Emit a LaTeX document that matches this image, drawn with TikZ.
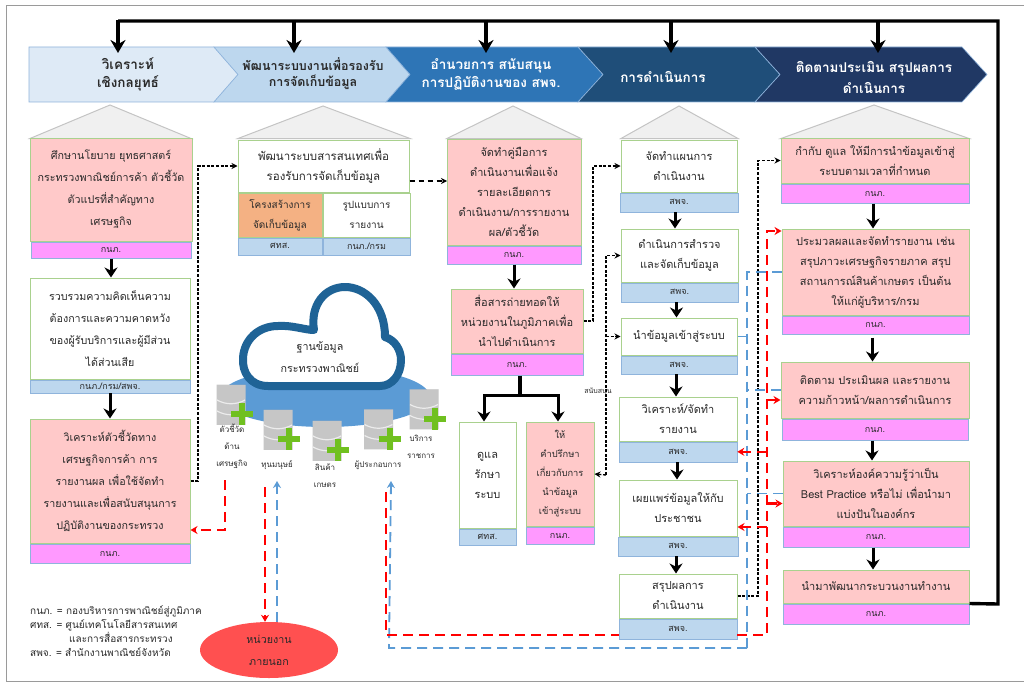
\documentclass[tikz,border=0pt]{standalone}
\usepackage{fontspec}
\setmainfont[Script=Thai]{Loma}
\usepackage{tikz}
\usetikzlibrary{shapes.geometric}
\usetikzlibrary{arrows.meta, positioning}

\definecolor{framegray}{HTML}{9A9A9A}
\definecolor{roofgray}{HTML}{C4C4C4}
\definecolor{roofill}{HTML}{F0F0F0}
\definecolor{pinkfill}{HTML}{FFC9C9}
\definecolor{greenline}{HTML}{A9D18E}
\definecolor{magfill}{HTML}{FF99FF}
\definecolor{footblue}{HTML}{BDD7EE}
\definecolor{footline}{HTML}{8FB4DC}
\definecolor{orangefill}{HTML}{F4B183}
\definecolor{chevone}{HTML}{DEEAF6}
\definecolor{chevtwo}{HTML}{BDD7EE}
\definecolor{chevthree}{HTML}{2E75B6}
\definecolor{chevfour}{HTML}{1F4E79}
\definecolor{chevfive}{HTML}{203864}
\definecolor{cloudblue}{HTML}{1F6396}
\definecolor{discblue}{HTML}{5B9BD5}
\definecolor{dashblue}{HTML}{5B9BD5}
\definecolor{redoval}{HTML}{FF5050}
\definecolor{plusgreen}{HTML}{70C020}
\definecolor{inkdark}{HTML}{2A2A2A}

\begin{document}
\begin{tikzpicture}[x = 1pt, y = -1pt, inner sep = 0pt, text = inkdark,
	textfont/.style = {font = \fontsize{11}{20}\selectfont, align = center},
	widefont/.style = {font = \fontsize{10.7}{22}\selectfont, align = center},
	whitebox/.style = {draw = greenline, fill = white, line width = 1pt, textfont},
	pinkbox/.style = {draw = greenline, fill = pinkfill, line width = 1pt, textfont},
	orangebox/.style = {draw = greenline, fill = orangefill, line width = 1pt, textfont},
	boxsize/.style 2 args = {minimum width = #1pt, minimum height = #2pt},
	footfont/.style = {font = \fontsize{9}{10}\selectfont},
	magfoot/.style = {draw = footline, fill = magfill, line width = 1pt, footfont},
	bluefoot/.style = {draw = footline, fill = footblue, line width = .6pt, footfont},
	roof/.style = {draw = roofgray, fill = roofill, line width = 1pt},
	chevtext/.style = {font = \fontsize{13.5}{18}\selectfont\bfseries, align = center},
	dblabel/.style = {font = \fontsize{8}{17}\selectfont, align = center},
	dbcyl/.style = {cylinder, shape border rotate = 90, aspect = 2.2, minimum width = 29pt, minimum height = 40pt, cylinder uses custom fill, cylinder body fill = gray!45, cylinder end fill = gray!70},
	heavy/.style = {line width = 3.4pt},
	heavyarrow/.style = {line width = 3.4pt, -{Stealth[length = 13pt, width = 15pt]}},
	flow/.style = {line width = 3pt, -{Stealth[length = 10pt, width = 13pt]}},
	dotline/.style = {line width = 1.3pt, dash pattern = on 3pt off 1.6pt, black},
	dotarrow/.style = {dotline, -{Stealth[length = 6pt, width = 6pt]}},
	redline/.style = {line width = 2.4pt, dash pattern = on 10pt off 6pt, red},
	redarrow/.style = {redline, -{Stealth[length = 7pt, width = 8pt]}},
	blueline/.style = {line width = 1.8pt, dash pattern = on 10pt off 6pt, dashblue},
	bluearrow/.style = {blueline, -{Stealth[length = 7pt, width = 8pt]}}]

\useasboundingbox (0,0) rectangle (1024,682);
\fill[white] (0,0) rectangle (1024,682);
\draw[framegray, line width = 1pt] (1024,6) -- (6,6) -- (6,681) -- (1024,681);

% header
\foreach \xa/\xn/\xb/\xc/\col in {29/29/214/238/chevone, 214/238/386/410/chevtwo, 386/410/578/603/chevthree, 578/603/755/780/chevfour, 755/780/962/987/chevfive}
	\filldraw[fill = \col, draw = footline, line width = .6pt] (\xa,47) -- (\xb,47) -- (\xc,74.5) -- (\xb,102) -- (\xa,102) -- (\xn,74.5) -- cycle;

\node[chevtext]				(chev1) at (128,74)	{วิเคราะห์\\เชิงกลยุทธ์};
\node[chevtext, font = \fontsize{12.5}{16}\selectfont\bfseries]	(chev2) at (313,74)	{พัฒนาระบบงานเพื่อรองรับ\\การจัดเก็บข้อมูล};
\node[chevtext, text = white]		(chev3) at (491,74)	{อำนวยการ สนับสนุน\\การปฏิบัติงานของ สพจ.};
\node[chevtext, text = white]		(chev4) at (663,77)	{การดำเนินการ};
\node[chevtext, text = white]		(chev5) at (874,77)	{ติดตามประเมิน สรุปผลการ\\[3pt]ดำเนินการ};

% roofs
\foreach \xa/\xm/\xb/\ya in {30/110/191/105, 238/323/410/106, 447/513/581/106, 621/679/738/106, 781/874/969/105}
	\draw[roof] (\xa,138.5) -- (\xm,\ya) -- (\xb,138.5) -- cycle;

% first column
\node[pinkbox, boxsize = {162}{103}, widefont]	(study) at (111,189.5)	{ศึกษานโยบาย ยุทธศาสตร์\\กระทรวงพาณิชย์การค้า ตัวชี้วัด\\ตัวแปรที่สำคัญทาง\\เศรษฐกิจ};
\node[magfoot, boxsize = {160}{16}]		(studyf) [below = 0pt of study]		{กนภ.};
\node[whitebox, boxsize = {160}{101}, widefont]	(voice) at (110,328.5)	{รวบรวมความคิดเห็นความ\\ต้องการและความคาดหวัง\\ของผู้รับบริการและผู้มีส่วน\\ได้ส่วนเสีย};
\node[bluefoot, boxsize = {160}{13}]		(voicef) [below = 0pt of voice]		{กนภ./กรม/สพจ.};
\node[pinkbox, boxsize = {160}{124}, widefont]	(analyse) at (110,481)	{วิเคราะห์ตัวชี้วัดทาง\\เศรษฐกิจการค้า การ\\รายงานผล เพื่อใช้จัดทำ\\รายงานและเพื่อสนับสนุนการ\\ปฏิบัติงานของกระทรวง};
\node[magfoot, boxsize = {160}{19}]		(analysef) [below = 0pt of analyse]	{กนภ.};

% second column
\node[whitebox, boxsize = {171}{52}, font = \fontsize{11.5}{20}\selectfont]	(devsys) at (323.5,166)	{พัฒนาระบบสารสนเทศเพื่อ\\รองรับการจัดเก็บข้อมูล};
\node[orangebox, boxsize = {84}{44}, font = \fontsize{10}{20}\selectfont]	(struct) at (280,215)	{โครงสร้างการ\\จัดเก็บข้อมูล};
\node[whitebox, boxsize = {87}{44}, font = \fontsize{10}{20}\selectfont]	(report) [right = 0pt of struct]	{รูปแบบการ\\รายงาน};
\node[bluefoot, boxsize = {84}{17}]		(structf) [below = 0pt of struct]	{ศทส.};
\node[bluefoot, boxsize = {87}{17}]		(reportf) [below = 0pt of report]	{กนภ./กรม};

% third column
\node[pinkbox, boxsize = {134}{106}]		(manual) at (514,192)	{จัดทำคู่มือการ\\ดำเนินงานเพื่อแจ้ง\\รายละเอียดการ\\ดำเนินงาน/การรายงาน\\ผล/ตัวชี้วัด};
\node[magfoot, boxsize = {134}{18}]		(manualf) [below = 0pt of manual]	{กนภ.};
\node[pinkbox, boxsize = {132}{64}]		(relay) at (517,321)	{สื่อสารถ่ายทอดให้\\หน่วยงานในภูมิภาคเพื่อ\\นำไปดำเนินการ};
\node[magfoot, boxsize = {132}{21}]		(relayf) [below = 0pt of relay]		{กนภ.};
\node[whitebox, boxsize = {57}{106}]		(care) at (487.5,475)	{ดูแล\\รักษา\\ระบบ};
\node[bluefoot, boxsize = {57}{16}]		(caref) [below = 0pt of care]		{ศทส.};
\node[pinkbox, boxsize = {68}{104}, font = \fontsize{9.3}{19}\selectfont]	(advise) at (560,474)	{ให้\\คำปรึกษา\\เกี่ยวกับการ\\นำข้อมูล\\เข้าสู่ระบบ};
\node[magfoot, boxsize = {68}{17}]		(advisef) [below = 0pt of advise]	{กนภ.};

% fourth column
\node[whitebox, boxsize = {116}{52}]		(plan) at (679,166)		{จัดทำแผนการ\\ดำเนินงาน};
\node[bluefoot, boxsize = {118}{19}]		(planf) [below = 0pt of plan]		{สพจ.};
\node[whitebox, boxsize = {117}{53}]		(survey) at (679.5,255.5)	{ดำเนินการสำรวจ\\และจัดเก็บข้อมูล};
\node[bluefoot, boxsize = {117}{19}]		(surveyf) [below = 0pt of survey]	{สพจ.};
\node[whitebox, boxsize = {116}{37}]		(entry) at (679,336.5)		{นำข้อมูลเข้าสู่ระบบ};
\node[bluefoot, boxsize = {116}{18}]		(entryf) [below = 0pt of entry]		{สพจ.};
\node[whitebox, boxsize = {118}{44}]		(reportb) at (678,419)		{วิเคราะห์/จัดทำ\\รายงาน};
\node[bluefoot, boxsize = {118}{20}]		(reportbf) [below = 0pt of reportb]	{สพจ.};
\node[whitebox, boxsize = {118}{56}]		(publish) at (678,508)		{เผยแพร่ข้อมูลให้กับ\\ประชาชน};
\node[bluefoot, boxsize = {120}{19}]		(publishf) [below = 0pt of publish]	{สพจ.};
\node[whitebox, boxsize = {118}{44}]		(sumup) at (678,596)		{สรุปผลการ\\ดำเนินงาน};
\node[bluefoot, boxsize = {118}{20}]		(sumupf) [below = 0pt of sumup]		{สพจ.};

% fifth column
\node[pinkbox, boxsize = {188}{45}]		(monitor) at (875,160.5)	{กำกับ ดูแล ให้มีการนำข้อมูลเข้าสู่\\ระบบตามเวลาที่กำหนด};
\node[magfoot, boxsize = {188}{19}]		(monitorf) [below = 0pt of monitor]	{กนภ.};
\node[pinkbox, boxsize = {187}{86}]		(compile) at (875.5,272)	{ประมวลผลและจัดทำรายงาน เช่น\\สรุปภาวะเศรษฐกิจรายภาค สรุป\\สถานการณ์สินค้าเกษตร เป็นต้น\\ให้แก่ผู้บริหาร/กรม};
\node[magfoot, boxsize = {187}{18}]		(compilef) [below = 0pt of compile]	{กนภ.};
\node[pinkbox, boxsize = {188}{56}]		(track) at (875,390)		{ติดตาม ประเมินผล และรายงาน\\ความก้าวหน้า/ผลการดำเนินการ};
\node[magfoot, boxsize = {186}{21}]		(trackf) [below = 0pt of track]		{กนภ.};
\node[pinkbox, boxsize = {186}{65}]		(assess) at (876,493.5)		{วิเคราะห์องค์ความรู้ว่าเป็น\\Best Practice หรือไม่ เพื่อนำมา\\แบ่งปันในองค์กร};
\node[magfoot, boxsize = {186}{20}]		(assessf) [below = 0pt of assess]	{กนภ.};
\node[pinkbox, boxsize = {186}{33}]		(improve) at (876,586.5)	{นำมาพัฒนากระบวนงานทำงาน};
\node[magfoot, boxsize = {186}{20}]		(improvef) [below = 0pt of improve]	{กนภ.};

% database
\node[ellipse, fill = discblue, minimum width = 210pt, minimum height = 60pt]	(disc) at (325,397) {};
\filldraw[draw = cloudblue, fill = white, line width = 8pt, line join = round]
	(268,386) .. controls (250,386) and (242,372) .. (243,358)
	.. controls (244,340) and (258,326) .. (278,326)
	.. controls (292,325) and (305,330) .. (314,330)
	.. controls (310,305) and (325,287) .. (345,287)
	.. controls (365,287) and (385,305) .. (385,337)
	.. controls (395,340) and (401,350) .. (401,360)
	.. controls (401,375) and (392,386) .. (380,386) -- cycle;
\node[widefont]	(cloudtext) at (320,357)	{ฐานข้อมูล\\กระทรวงพาณิชย์};

\foreach \n/\x/\y in {dbeco/231/405, dbhuman/278/430, dbfarm/327/441, dbfirm/378.5/429.5, dbservice/424/409.5} {
	\node[dbcyl] (\n) at (\x,\y) {};
	\draw[white!85!gray, line width = 1.2pt] (\x-14,\y-5) .. controls (\x-5,\y) and (\x+5,\y) .. (\x+14,\y-5);
	\draw[white!85!gray, line width = 1.2pt] (\x-14,\y+6) .. controls (\x-5,\y+11) and (\x+5,\y+11) .. (\x+14,\y+6);
	\draw[plusgreen, line width = 6pt] (\x,\y+9) -- (\x+22,\y+9);
	\draw[plusgreen, line width = 6pt] (\x+11,\y-2) -- (\x+11,\y+20);
}

\node[dblabel]	(labeleco) at (232,446)		{ตัวชี้วัด\\ด้าน\\เศรษฐกิจ};
\node[dblabel]	(labelhuman) at (277,465)	{ทุนมนุษย์};
\node[dblabel]	(labelfarm) at (325,476)	{สินค้า\\เกษตร};
\node[dblabel]	(labelfirm) at (378,465)	{ผู้ประกอบการ};
\node[dblabel]	(labelservice) at (421,447)	{บริการ\\ราชการ};

\node[ellipse, fill = redoval, minimum width = 138pt, minimum height = 56pt, widefont]	(partner) at (269,650)	{หน่วยงาน\\ภายนอก};

\node[font = \fontsize{10}{13.7}\selectfont, align = left, anchor = north west]	(legend) at (30,606)	{กนภ. = กองบริหารการพาณิชย์สู่ภูมิภาค\\ศทส. = ศูนย์เทคโนโลยีสารสนเทศ\\\hspace*{39pt}และการสื่อสารกระทรวง\\สพจ. = สำนักงานพาณิชย์จังหวัด};

% solid connectors
\coordinate (busleft) at (118,21);
\coordinate (busright) at (998,21);
\coordinate (buslow) at (998,604);
\draw[heavy, line join = miter] (improvef.north east) -- (buslow) -- (busright) -- (busleft);
\foreach \x in {118, 294, 486, 671, 878} {
	\coordinate (drop\x) at (\x,20);
	\coordinate (head\x) at (\x,53);
	\path[heavyarrow] (drop\x) edge (head\x);
}

\path	(studyf.south)	edge[flow]	(studyf.south |- voice.north);
\path	(voicef.south)	edge[flow]	(voicef.south |- analyse.north);
\path	(manualf.south)	edge[flow]	(manualf.south |- relay.north);
\path	([xshift = -4pt]planf.south)	edge[flow]	([xshift = -4pt]planf.south |- survey.north);
\path	([xshift = -3pt]surveyf.south)	edge[flow]	([xshift = -3pt]surveyf.south |- entry.north);
\path	([xshift = -3pt]entryf.south)	edge[flow]	([xshift = -3pt]entryf.south |- reportb.north);
\path	([xshift = -1pt]reportbf.south)	edge[flow]	([xshift = -1pt]reportbf.south |- publish.north);
\path	([xshift = -2pt]publishf.south)	edge[flow]	([xshift = -2pt]publishf.south |- sumup.north);
\path	([xshift = -2pt]monitorf.south)	edge[flow]	([xshift = -2pt]monitorf.south |- compile.north);
\path	([xshift = -3pt, yshift = -3pt]compilef.south)	edge[flow]	([xshift = -3pt]compilef.south |- track.north);
\path	([xshift = -3pt]trackf.south)	edge[flow]	([xshift = -3pt]trackf.south |- assess.north);
\path	([xshift = -3pt]assessf.south)	edge[flow]	([xshift = -3pt]assessf.south |- improve.north);

\coordinate (forkleft) at (484,395);
\coordinate (forkright) at (558,395);
\coordinate (forkstem) at (520,395);
\draw[heavy] (relayf.south -| forkstem) -- (forkstem);
\draw[flow] (forkstem) -- (forkleft) -- (forkleft |- care.north);
\draw[flow] (forkstem) -- (forkright) -- (forkright |- advise.north);

% dotted connectors
\coordinate (dotA) at (198,166);
\coordinate (dotB) at (447,181);
\coordinate (dotC) at (593,166);
\coordinate (dotD) at (606,475);
\coordinate (dotE) at (606,255.5);
\coordinate (dotF) at (758,160.5);
\draw[dotarrow]	(analyse.east) -| (dotA) -- (devsys.west);
\draw[dotarrow, dash pattern = on 5pt off 4pt]	([yshift = -15pt]devsys.east) -- (dotB);
\draw[dotarrow]	(relay.east) -| (dotC) -- (plan.west);
\draw[dotarrow]	(dotD) -- (advise.east);
\draw[dotarrow]	(dotD) -- (dotE) -- (survey.west);
\draw[dotarrow]	(entry.west -| dotD) -- (entry.west);
\draw[dotarrow]	(sumup.east) -| (dotF) -- (monitor.west);
\node[font = \fontsize{7}{8}\selectfont]	(support) at (598,392)	{สนับสนุน};

% blue connectors
\coordinate (blueup) at (747,272);
\coordinate (bluedown) at (747,652);
\coordinate (bluelow) at (747,648);
\coordinate (bluecorner) at (389,648);
\coordinate (bluefirm) at (391,481);
\coordinate (bluehuman) at (277,481);
\draw[blueline]		(compile.west) -- (blueup) -- (bluedown);
\draw[blueline]		(entry.east) -- (entry.east -| blueup);
\draw[blueline]		(track.west) -- (track.west -| blueup);
\draw[blueline]		(assess.west) -- (assess.west -| blueup);
\draw[bluearrow]	(bluelow) -- (bluecorner) -- (bluefirm);
\draw[bluearrow]	(partner.north -| bluehuman) -- (bluehuman);

% red connectors
\coordinate (redeco) at (225,480);
\coordinate (redhuman) at (265,487);
\coordinate (redfirm) at (386,492);
\coordinate (redlow) at (767,635);
\coordinate (redhigh) at (767,231);
\draw[redarrow]	(redeco) |- ([yshift = -49pt]analyse.east);
\draw[redarrow]	(redhuman) -- (partner.north -| redhuman);
\draw[redline]	(redfirm) |- (sumupf.west |- redlow);
\draw[redarrow]	(sumupf.east |- redlow) -- (redlow) -- (redhigh) -- ([yshift = 41pt]compile.west);
\draw[redarrow]	(reportbf.east -| redlow) -- (reportbf.east);
\draw[redarrow]	([yshift = -19pt]publish.east -| redlow) -- ([yshift = -19pt]publish.east);
\draw[redarrow]	([yshift = -10pt]track.west -| redlow) -- ([yshift = -10pt]track.west);
\draw[redarrow]	([yshift = -10pt]assess.west -| redlow) -- ([yshift = -10pt]assess.west);

\end{tikzpicture}
\end{document}
